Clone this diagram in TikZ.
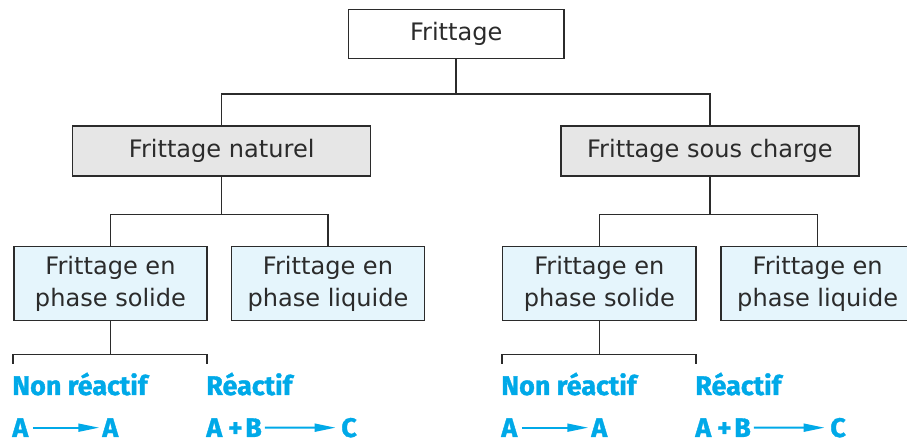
\documentclass[tikz,border=0pt]{standalone}
\usepackage{fontspec}
\setmainfont{DejaVu Sans}
\newfontfamily\kindfont{Fira Sans}[FakeBold=1.3]
\usetikzlibrary{arrows.meta,positioning,calc}
\definecolor{boxline}{HTML}{2B2B2B}
\definecolor{grayfill}{HTML}{E6E6E6}
\definecolor{bluefill}{HTML}{E5F5FC}
\definecolor{kindblue}{HTML}{00A9E8}

\begin{document}
\begin{tikzpicture}[x=0.02cm, y=-0.02cm]
    \tikzset{
        root/.style={draw=boxline, fill=white, rectangle, minimum width=4.31cm, minimum height=0.99cm, align=center, font=\fontsize{13.7}{18}\selectfont, text=boxline, line width=0.85pt},
        mode/.style={draw=boxline, fill=grayfill, rectangle, minimum width=5.96cm, minimum height=1.0cm, align=center, font=\fontsize{13.7}{18}\selectfont, text=boxline, line width=0.85pt},
        phase/.style={draw=boxline, fill=bluefill, rectangle, minimum width=3.87cm, minimum height=1.48cm, align=center, font=\fontsize{13.7}{18}\selectfont, text=boxline, line width=0.85pt},
        kind/.style={anchor=base west, inner sep=0pt, text=kindblue, font=\kindfont\bfseries\fontsize{15.3}{17}\selectfont},
        tree/.style={draw=boxline, line width=0.85pt},
        react/.style={draw=kindblue, -{Triangle[length=12pt,width=4.5pt]}, line width=1.2pt}
    }
    \useasboundingbox (0,0) rectangle (907,442);

    % Root
    \node[root] (frit) at (456.2,34) {Frittage};

    % Second level
    \node[mode] (nat) at (221.7,151) {Frittage naturel};
    \node[mode] (sch) at (709.9,151) {Frittage sous charge};

    % Third level
    \node[phase] (solL) at (110.5,283.7) {Frittage en\\phase solide};
    \node[phase] (liqL) at (328,283.7) {Frittage en\\phase liquide};
    \node[phase] (solR) at (599.4,283.7) {Frittage en\\phase solide};
    \node[phase] (liqR) at (817.7,283.7) {Frittage en\\phase liquide};

    % Reaction kinds (left)
    \node[kind] (nrL) at (12,395) {Non réactif};
    \node[kind] (rL) at (206,395) {Réactif};
    \node[kind] (aL1) at (12,437) {A};
    \node[kind] (aL2) at (102,437) {A};
    \node[kind] (abL) at (206,437) {A\hspace{3.5pt}+\hspace{1.5pt}B};
    \node[kind] (cL) at (341,437) {C};

    % Reaction kinds (right)
    \node[kind] (nrR) at (501,395) {Non réactif};
    \node[kind] (rR) at (695,395) {Réactif};
    \node[kind] (aR1) at (501,437) {A};
    \node[kind] (aR2) at (591,437) {A};
    \node[kind] (abR) at (695,437) {A\hspace{3.5pt}+\hspace{1.5pt}B};
    \node[kind] (cR) at (830,437) {C};

    % Tree connections
    \path[tree] (frit.south) -- ++(0,34.3) -| (nat.north);
    \path[tree] (frit.south) -- ++(0,34.3) -| (sch.north);
    \path[tree] (nat.south) -- ++(0,38) -| (solL.north);
    \path[tree] (nat.south) -- ++(0,38) -| (liqL.north);
    \path[tree] (sch.south) -- ++(0,38) -| (solR.north);
    \path[tree] (sch.south) -- ++(0,38) -| (liqR.north);
    \path[tree] (solL.south) -- ++(0,33) -| ([xshift=0.6pt,yshift=4.5pt]nrL.north west);
    \path[tree] (solL.south) -- ++(0,33) -| ([xshift=0.6pt,yshift=4.5pt]rL.north west);
    \path[tree] (solR.south) -- ++(0,33) -| ([xshift=0.6pt,yshift=4.5pt]nrR.north west);
    \path[tree] (solR.south) -- ++(0,33) -| ([xshift=0.6pt,yshift=4.5pt]rR.north west);

    % Reactions
    \path[react] ([xshift=2.5pt]aL1.east) -- ([xshift=-1.5pt]aL2.west);
    \path[react] ([xshift=1.5pt]abL.east) -- ([xshift=-3pt]cL.west);
    \path[react] ([xshift=2.5pt]aR1.east) -- ([xshift=-1.5pt]aR2.west);
    \path[react] ([xshift=1.5pt]abR.east) -- ([xshift=-3pt]cR.west);
\end{tikzpicture}
\end{document}
